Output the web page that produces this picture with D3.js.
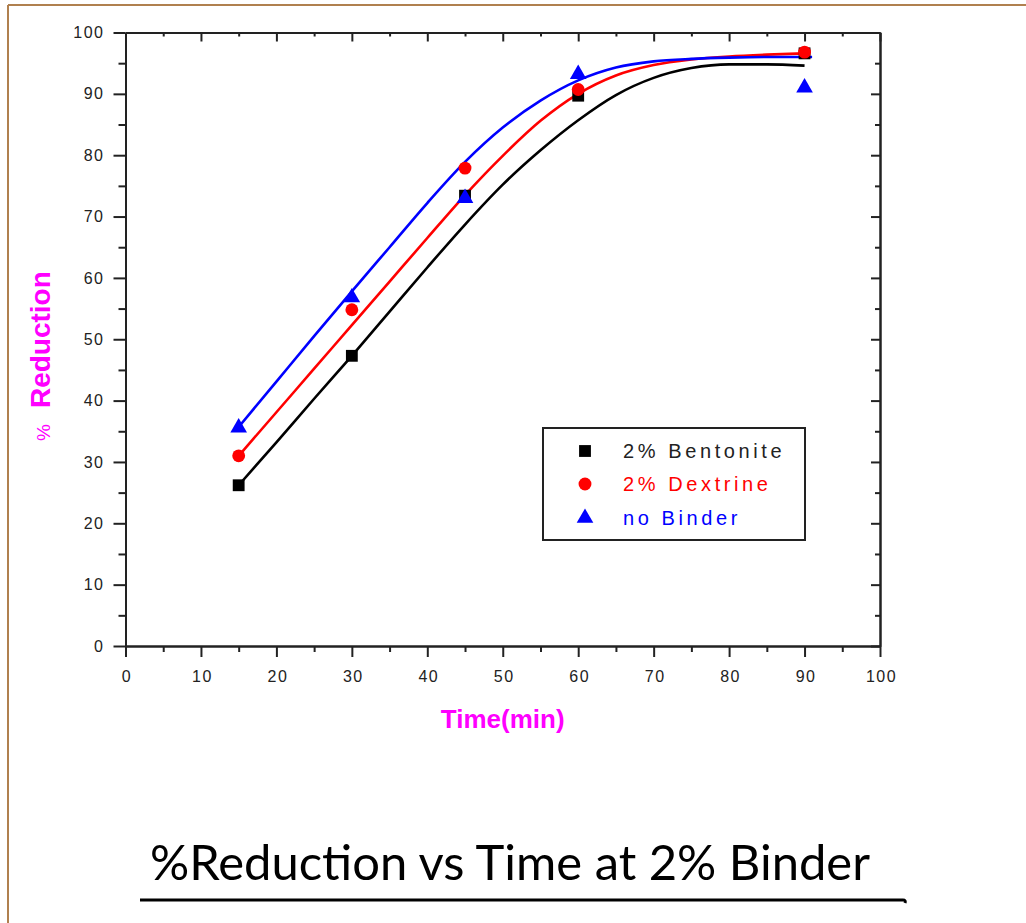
<!DOCTYPE html>
<html>
<head>
<meta charset="utf-8">
<script src="https://cdn.jsdelivr.net/npm/d3@7"></script>
<style>
  html, body { margin: 0; padding: 0; background: #fff; }
  svg { display: block; }
</style>
</head>
<body>
<script>
// Sampling times (min) and measured % reduction for each binder
const times = [15, 30, 45, 60, 90];
const bentonite = [26.2, 47.3, 73.4, 89.7, 96.6];
const dextrine = [31.0, 54.8, 77.9, 90.7, 96.8];
const noBinder = [35.6, 56.8, 73.0, 93.2, 91.0];

// Fitted trend curves, sampled along the time axis
const fitTime = [15, 20, 25, 30, 35, 40, 45, 50, 55, 60, 65, 70, 75, 80, 85, 90];
const bentoniteFit = [26.2, 33.2, 40.3, 47.3, 54.5, 61.7, 68.7, 75.2, 80.8, 85.7, 89.8, 92.6, 94.2, 94.8, 94.8, 94.6];
const dextrineFit = [31.0, 38.1, 45.2, 52.3, 59.4, 66.5, 73.5, 79.9, 85.6, 90.0, 93.0, 94.7, 95.6, 96.1, 96.4, 96.6];
const noBinderFitTime = [15, 20, 25, 30, 35, 40, 45, 50, 55, 60, 65, 70, 75, 80, 85, 90, 91];
const noBinderFit = [35.7, 43.1, 50.5, 57.8, 65.0, 72.2, 78.9, 84.5, 88.9, 92.2, 94.3, 95.3, 95.7, 95.9, 96.0, 96.0, 96.0];

// Axis ticks
const xMajor = [0, 10, 20, 30, 40, 50, 60, 70, 80, 90, 100];
const xMinor = [5, 15, 25, 35, 45, 55, 65, 75, 85, 95];
const yMajor = [0, 10, 20, 30, 40, 50, 60, 70, 80, 90, 100];
const yMinor = [5, 15, 25, 35, 45, 55, 65, 75, 85, 95];

const seriesNames = ["2% Bentonite", "2% Dextrine", "no Binder"];
const seriesColors = ["#000000", "#ff0000", "#0000ff"];
const seriesSymbols = [d3.symbolSquare, d3.symbolCircle, d3.symbolTriangle];
const symbolSizes = [140, 130, 120];

const W = 1026, H = 923;
const svg = d3.select("body").append("svg").attr("width", W).attr("height", H);

// page frame
svg.append("line").attr("x1", 8).attr("x2", W).attr("y1", 5).attr("y2", 5)
  .attr("stroke", "#b0804f").attr("stroke-width", 2);
svg.append("line").attr("x1", 8).attr("x2", 8).attr("y1", 5).attr("y2", H)
  .attr("stroke", "#b0804f").attr("stroke-width", 2);

const x = d3.scaleLinear().domain([0, 100]).range([125.5, 880]);
const y = d3.scaleLinear().domain([0, 100]).range([646, 32.5]);

const axisColor = "#222";
function styleAxis(g) {
  g.attr("font-family", "'Liberation Sans', Arial, sans-serif").attr("font-size", 16);
  g.selectAll("path.domain").attr("stroke", axisColor).attr("stroke-width", 2);
  g.selectAll(".tick line").attr("stroke", axisColor).attr("stroke-width", 2);
  g.selectAll(".tick text").attr("fill", "#222").attr("letter-spacing", "1.5px");
}

// bottom axis (ticks outward)
svg.append("g").attr("transform", `translate(0,${y(0)})`)
  .call(d3.axisBottom(x).tickValues(xMinor).tickSize(6).tickSizeOuter(0).tickFormat(""))
  .call(styleAxis);
svg.append("g").attr("transform", `translate(0,${y(0)})`)
  .call(d3.axisBottom(x).tickValues(xMajor).tickSize(11).tickSizeOuter(0).tickPadding(14).tickFormat(d3.format("d")))
  .call(styleAxis)
  .selectAll(".tick text").attr("dx", "1px");

// left axis (ticks outward)
svg.append("g").attr("transform", `translate(${x(0)},0)`)
  .call(d3.axisLeft(y).tickValues(yMinor).tickSize(7).tickSizeOuter(0).tickFormat(""))
  .call(styleAxis);
svg.append("g").attr("transform", `translate(${x(0)},0)`)
  .call(d3.axisLeft(y).tickValues(yMajor).tickSize(12).tickSizeOuter(0).tickPadding(9).tickFormat(d3.format("d")))
  .call(styleAxis);

// top axis (ticks inward)
svg.append("g").attr("transform", `translate(0,${y(100)})`)
  .call(d3.axisTop(x).tickValues(xMinor).tickSize(-4).tickSizeOuter(0).tickFormat(""))
  .call(styleAxis);
svg.append("g").attr("transform", `translate(0,${y(100)})`)
  .call(d3.axisTop(x).tickValues(xMajor).tickSize(-9).tickSizeOuter(0).tickFormat(""))
  .call(styleAxis);

// right axis (ticks inward)
svg.append("g").attr("transform", `translate(${x(100)},0)`)
  .call(d3.axisRight(y).tickValues(yMinor).tickSize(-5).tickSizeOuter(0).tickFormat(""))
  .call(styleAxis);
svg.append("g").attr("transform", `translate(${x(100)},0)`)
  .call(d3.axisRight(y).tickValues(yMajor).tickSize(-9).tickSizeOuter(0).tickFormat(""))
  .call(styleAxis);

// fitted curves
const line = d3.line().x(d => x(d[0])).y(d => y(d[1])).curve(d3.curveMonotoneX);
const fits = [
  d3.zip(fitTime, bentoniteFit),
  d3.zip(fitTime, dextrineFit),
  d3.zip(noBinderFitTime, noBinderFit)
];
fits.forEach((pts, i) => {
  svg.append("path").attr("d", line(pts))
    .attr("fill", "none").attr("stroke", seriesColors[i]).attr("stroke-width", 2.6);
});

// measured points
const measured = [bentonite, dextrine, noBinder];
measured.forEach((vals, i) => {
  const sym = d3.symbol().type(seriesSymbols[i]).size(symbolSizes[i]);
  svg.append("g").selectAll("path").data(d3.zip(times, vals)).join("path")
    .attr("d", sym)
    .attr("transform", d => `translate(${x(d[0])},${y(d[1])})`)
    .attr("fill", seriesColors[i]);
});

// legend
const legend = svg.append("g");
legend.append("rect").attr("x", 543).attr("y", 428).attr("width", 262).attr("height", 112)
  .attr("fill", "#fff").attr("stroke", axisColor).attr("stroke-width", 2);
const rowY = [451, 484, 518];
seriesNames.forEach((name, i) => {
  legend.append("path")
    .attr("d", d3.symbol().type(seriesSymbols[i]).size(symbolSizes[i])())
    .attr("transform", `translate(585,${rowY[i]})`)
    .attr("fill", seriesColors[i]);
  legend.append("text").attr("x", 623).attr("y", rowY[i]).attr("dy", "0.36em")
    .attr("font-family", "'Liberation Sans', Arial, sans-serif")
    .attr("font-size", 20).attr("letter-spacing", "3.6px")
    .attr("fill", i === 0 ? "#222" : seriesColors[i])
    .text(name);
});

// axis titles
svg.append("text").attr("x", x(50)).attr("y", 728)
  .attr("text-anchor", "middle")
  .attr("font-family", "'Liberation Sans', Arial, sans-serif")
  .attr("font-weight", "bold").attr("font-size", 26).attr("fill", "#ff00ff")
  .text("Time(min)");

const yTitle = svg.append("text").attr("transform", "translate(50,441) rotate(-90)")
  .attr("font-family", "'Liberation Sans', Arial, sans-serif")
  .attr("fill", "#ff00ff");
yTitle.append("tspan").attr("font-size", 19).text("%");
yTitle.append("tspan").attr("dx", 16).attr("font-size", 28).attr("font-weight", "bold").text("Reduction");

// caption under the chart
svg.append("text").attr("x", 150).attr("y", 880)
  .attr("font-family", "Lato, 'Open Sans', sans-serif")
  .attr("font-size", 48).attr("fill", "#000")
  .attr("textLength", 720).attr("lengthAdjust", "spacingAndGlyphs")
  .text("%Reduction vs Time at 2% Binder");
svg.append("path").attr("d", "M140,900 L903,900 Q906,900 905,903")
  .attr("fill", "none").attr("stroke", "#000").attr("stroke-width", 3);
</script>
</body>
</html>
